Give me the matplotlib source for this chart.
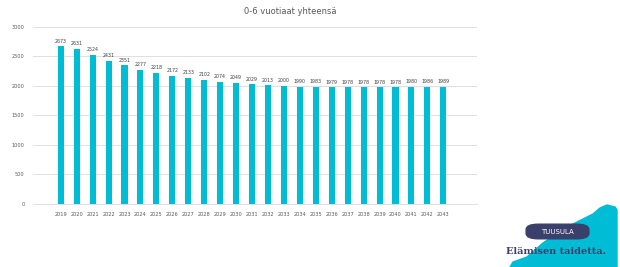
import matplotlib
matplotlib.use("Agg")
import matplotlib.pyplot as plt
from matplotlib.patches import Polygon, FancyBboxPatch

years = [str(y) for y in range(2019, 2044)]
values = [2673, 2631, 2524, 2431, 2351, 2277, 2218, 2172, 2133, 2102, 2074, 2049,
          2029, 2013, 2000, 1990, 1983, 1979, 1978, 1978, 1978, 1978, 1980, 1986, 1989]
yticks = [0, 500, 1000, 1500, 2000, 2500, 3000]
title = "0-6 vuotiaat yhteensä"

bar_color = "#00BCD4"
fig = plt.figure(figsize=(6.2, 2.67), dpi=100)
ax = fig.add_axes([0.053, 0.236, 0.716, 0.663])
x = list(range(len(years)))
ax.bar(x, values, width=0.38, color=bar_color, zorder=3)
for xi, v in zip(x, values):
    ax.text(xi, v + 45, str(v), ha="center", va="bottom", fontsize=3.4, color="#404040")
ax.set_xlim(-1.75, len(years) + 1.1)
ax.set_ylim(0, 3000)
ax.set_yticks(yticks)
ax.set_yticklabels([str(t) for t in yticks], fontsize=3.6, color="#595959")
ax.set_xticks(x)
ax.set_xticklabels(years, fontsize=3.6, color="#595959")
ax.tick_params(length=0, pad=6)
ax.grid(axis="y", color="#D9D9D9", linewidth=0.6, zorder=0)
for s in ["top", "right", "left"]:
    ax.spines[s].set_visible(False)
ax.spines["bottom"].set_color("#D9D9D9")
ax.spines["bottom"].set_linewidth(0.6)
fig.text(290/620, 1 - 12/267, title, ha="center", va="center", fontsize=6, color="#595959")

# logo blob
H = 267.0
W = 620.0
pts = [(510, 267), (513, 262), (527, 257), (543, 243), (567, 227), (587, 217), (593, 214),
       (600, 208), (607, 205), (615, 207), (617, 210), (617, 267)]
blob = [(px / W, 1 - py / H) for px, py in pts]
fig.patches.append(Polygon(blob, closed=True, transform=fig.transFigure, color=bar_color, zorder=1))
fig.patches.append(FancyBboxPatch((528/W, 1 - 238/H), 59/W, 13/H,
                                  boxstyle="round,pad=0.003,rounding_size=0.02",
                                  transform=fig.transFigure, color="#3B3F6B", zorder=2))
fig.text(557/W, 1 - 231.5/H, "TUUSULA", ha="center", va="center", fontsize=5,
         color="white", zorder=3)
fig.text(556/W, 1 - 251/H, "Elämisen taidetta.", ha="center", va="center", fontsize=7,
         color="#3B3F6B", family="DejaVu Serif", weight="bold", zorder=3)
fig.savefig("out.png", dpi=100)
